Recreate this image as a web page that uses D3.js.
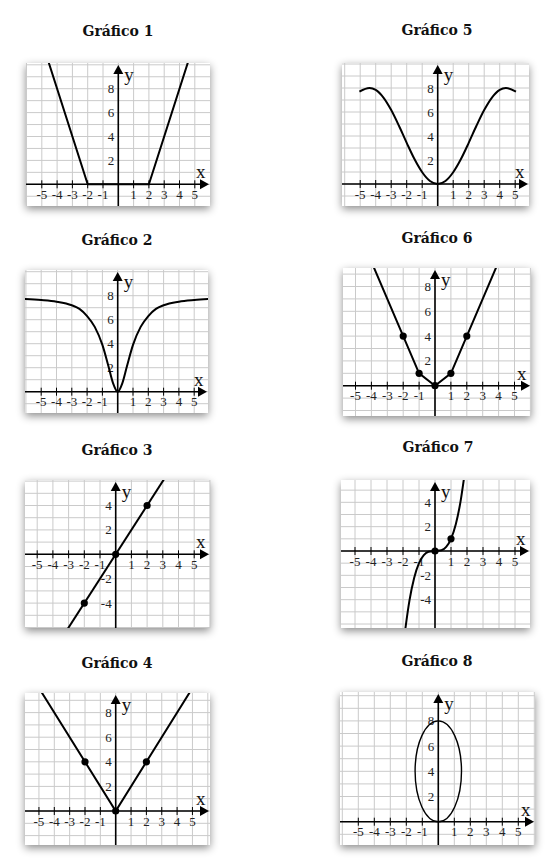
<!DOCTYPE html>
<html><head><meta charset="utf-8">
<script src="https://cdn.jsdelivr.net/npm/d3@7"></script>
<style>body{margin:0;background:#fff}svg{display:block}</style>
</head><body>
<svg id="c" width="560" height="868"></svg>
<script>
// ---------- data ----------
const titles = ["Gráfico 1","Gráfico 2","Gráfico 3","Gráfico 4","Gráfico 5","Gráfico 6","Gráfico 7","Gráfico 8"];
const xTickValues = [-5,-4,-3,-2,-1,1,2,3,4,5];
const yTicksPositive = [2,4,6,8];
const yTicksSigned = [4,2,-2,-4];

// Gráfico 1
const g1X = [-4.75,-2,2,4.75];
const g1Y = [11,0,0,11];
// Gráfico 2
const g2X = [-6.2,-5,-4,-3,-2.5,-2,-1.5,-1,-0.6,-0.3,0,0.3,0.6,1,1.5,2,2.5,3,4,5,6.2];
const g2Y = [7.74,7.64,7.5,7.2,6.9,6.3,5.4,3.9,2.1,0.7,0,0.7,2.1,3.9,5.4,6.3,6.9,7.2,7.5,7.64,7.74];
// Gráfico 3
const g3X = [-3.1,3.1];
const g3Y = [-6.2,6.2];
const g3DotX = [-2,0,2];
const g3DotY = [-4,0,4];
// Gráfico 4
const g4X = [-5,0,5];
const g4Y = [10,0,10];
const g4DotX = [-2,0,2];
const g4DotY = [4,0,4];
// Gráfico 5
const g5X = [-5.05,-4.4,-4,-3.5,-3,-2.5,-2,-1.5,-1,-0.5,0,0.5,1,1.5,2,2.5,3,3.5,4,4.4,5.05];
const g5Y = [7.7,8,7.84,7.2,6.16,4.85,3.43,2.08,0.98,0.25,0,0.25,0.98,2.08,3.43,4.85,6.16,7.2,7.84,8,7.7];
// Gráfico 6
const g6X = [-4,-2,-1,0,1,2,4];
const g6Y = [10,4,1,0,1,4,10];
const g6DotX = [-2,-1,0,1,2];
const g6DotY = [4,1,0,1,4];
// Gráfico 7
const g7X = [-1.9,-1.6,-1.3,-1,-0.7,-0.4,0,0.4,0.7,1,1.3,1.6,1.85];
const g7Y = [-6.86,-4.1,-2.2,-1,-0.34,-0.06,0,0.06,0.34,1,2.2,4.1,6.33];
const g7DotX = [0,1];
const g7DotY = [0,1];
// Gráfico 8 (ellipse: centre, radii)
const g8Center = [0,4];
const g8Radii = [1.45,4];

// ---------- layout ----------
const layout = [
  {tx:118, ty:36,  box:[26,63,210,206],  o:[118.3,184.3], ux:15.3, uy:11.95, yt:yTicksPositive},
  {tx:117, ty:245, box:[25,270,208,413], o:[117.7,391.7], ux:15.3, uy:12.0,  yt:yTicksPositive},
  {tx:117, ty:455, box:[25,480,210,628], o:[115.7,554.3], ux:15.7, uy:12.2,  yt:yTicksSigned},
  {tx:117, ty:668, box:[25,693,210,845], o:[115.7,811],   ux:15.35,uy:12.3,  yt:yTicksPositive},
  {tx:437, ty:35,  box:[342,63,529,206], o:[437.7,184],   ux:15.5, uy:12.0,  yt:yTicksPositive},
  {tx:437, ty:243, box:[343,268,531,416],o:[435,385.7],   ux:15.9, uy:12.4,  yt:yTicksPositive},
  {tx:438, ty:452, box:[341,480,530,628],o:[435,551],     ux:16.0, uy:12.17, yt:yTicksSigned},
  {tx:437, ty:666, box:[340,692,535,845],o:[438.3,821.7], ux:16.0, uy:12.6,  yt:yTicksPositive}
];

const series = [
  {x:g1X, y:g1Y, curve:d3.curveLinear},
  {x:g2X, y:g2Y, curve:d3.curveMonotoneX},
  {x:g3X, y:g3Y, curve:d3.curveLinear, dx:g3DotX, dy:g3DotY},
  {x:g4X, y:g4Y, curve:d3.curveLinear, dx:g4DotX, dy:g4DotY},
  {x:g5X, y:g5Y, curve:d3.curveMonotoneX},
  {x:g6X, y:g6Y, curve:d3.curveLinear, dx:g6DotX, dy:g6DotY},
  {x:g7X, y:g7Y, curve:d3.curveMonotoneX, dx:g7DotX, dy:g7DotY},
  {ellipse:true}
];

const svg = d3.select("#c");
const defs = svg.append("defs");
const f = defs.append("filter").attr("id","sh").attr("x","-20%").attr("y","-20%").attr("width","140%").attr("height","140%");
f.append("feDropShadow").attr("dx",0).attr("dy",3).attr("stdDeviation",4).attr("flood-color","#000").attr("flood-opacity",0.45);

const serif = "'Liberation Serif','Times New Roman',serif";

layout.forEach((L,i) => {
  const [l,t,r,b] = L.box;
  const x = d3.scaleLinear().domain([(l-L.o[0])/L.ux,(r-L.o[0])/L.ux]).range([l,r]);
  const y = d3.scaleLinear().domain([(L.o[1]-b)/L.uy,(L.o[1]-t)/L.uy]).range([b,t]);
  const g = svg.append("g");

  // title
  svg.append("text").attr("x",L.tx).attr("y",L.ty).attr("text-anchor","middle")
    .attr("font-family","'DejaVu Serif',serif").attr("font-weight","bold").attr("font-size",14)
    .attr("fill","#111").text(titles[i]);

  // panel
  g.append("rect").attr("x",l).attr("y",t).attr("width",r-l).attr("height",b-t)
    .attr("fill","#fff").attr("filter","url(#sh)");

  const cid = "clip"+i;
  defs.append("clipPath").attr("id",cid).append("rect").attr("x",l).attr("y",t).attr("width",r-l).attr("height",b-t);

  // grid
  const xs = d3.range(Math.ceil(x.domain()[0]), Math.floor(x.domain()[1])+1);
  const ys = d3.range(Math.ceil(y.domain()[0]), Math.floor(y.domain()[1])+1);
  g.append("g").selectAll("line").data(xs).join("line")
    .attr("x1",d=>x(d)).attr("x2",d=>x(d)).attr("y1",t).attr("y2",b)
    .attr("stroke","#cacaca").attr("stroke-width",1);
  g.append("g").selectAll("line").data(ys).join("line")
    .attr("y1",d=>y(d)).attr("y2",d=>y(d)).attr("x1",l).attr("x2",r)
    .attr("stroke","#cacaca").attr("stroke-width",1);

  // axes
  const x0 = x(0), y0 = y(0);
  g.append("line").attr("x1",l).attr("x2",r-6).attr("y1",y0).attr("y2",y0).attr("stroke","#000").attr("stroke-width",1.6);
  g.append("line").attr("x1",x0).attr("x2",x0).attr("y1",t+6).attr("y2",b).attr("stroke","#000").attr("stroke-width",1.6);
  // arrows
  g.append("path").attr("d",`M${r-1},${y0} L${r-10},${y0-5} L${r-10},${y0+5} Z`).attr("fill","#000");
  g.append("path").attr("d",`M${x0},${t+2} L${x0-5},${t+11} L${x0+5},${t+11} Z`).attr("fill","#000");
  // x ticks
  g.append("g").selectAll("line").data(xTickValues).join("line")
    .attr("x1",d=>x(d)).attr("x2",d=>x(d)).attr("y1",y0-4).attr("y2",y0+4)
    .attr("stroke","#000").attr("stroke-width",1);
  g.append("g").selectAll("text").data(xTickValues).join("text")
    .attr("x",d=>x(d)).attr("y",y0+14.5).attr("text-anchor","middle")
    .attr("font-family",serif).attr("font-size",13).attr("fill","#222").text(d=>d);
  g.append("g").selectAll("text").data(L.yt).join("text")
    .attr("x",x0-4).attr("y",d=>y(d)+4.5).attr("text-anchor","end")
    .attr("font-family",serif).attr("font-size",13).attr("fill","#222").text(d=>d);
  // axis names
  g.append("text").attr("x",x0+6).attr("y",t+18).attr("font-family",serif).attr("font-size",19).attr("fill","#111").text("y");
  g.append("text").attr("x",r-14).attr("y",y0-6).attr("font-family",serif).attr("font-size",19).attr("fill","#111").text("x");

  // data
  const S = series[i];
  const cg = g.append("g").attr("clip-path",`url(#${cid})`);
  if (S.ellipse) {
    cg.append("ellipse").attr("cx",x(g8Center[0])).attr("cy",y(g8Center[1]))
      .attr("rx",x(g8Center[0]+g8Radii[0])-x(g8Center[0]))
      .attr("ry",y(g8Center[1]-g8Radii[1])-y(g8Center[1]))
      .attr("fill","none").attr("stroke","#000").attr("stroke-width",1.4);
  } else {
    const pts = S.x.map((v,k)=>[v,S.y[k]]);
    cg.append("path").datum(pts)
      .attr("d",d3.line().x(d=>x(d[0])).y(d=>y(d[1])).curve(S.curve))
      .attr("fill","none").attr("stroke","#000").attr("stroke-width",2);
    if (S.dx) {
      cg.append("g").selectAll("circle").data(S.dx.map((v,k)=>[v,S.dy[k]])).join("circle")
        .attr("cx",d=>x(d[0])).attr("cy",d=>y(d[1])).attr("r",3.6).attr("fill","#000");
    }
  }
});
</script>
</body></html>
